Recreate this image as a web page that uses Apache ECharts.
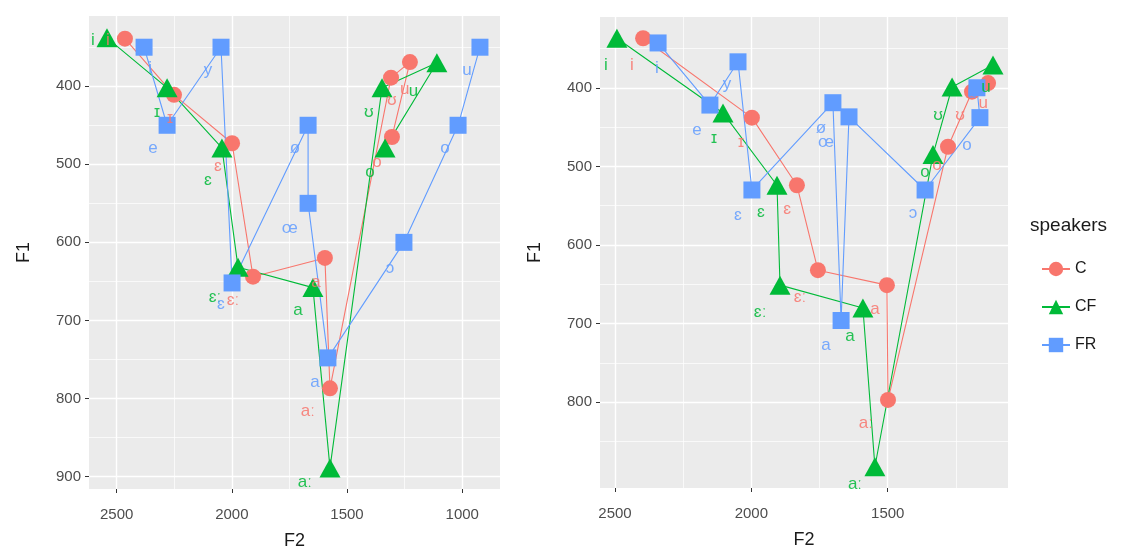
<!DOCTYPE html>
<html><head><meta charset="utf-8">
<script src="https://cdn.jsdelivr.net/npm/echarts@6/dist/echarts.min.js"></script>
<style>html,body{margin:0;padding:0;background:#fff}#c{width:1135px;height:558px}</style>
</head><body><div id="c"></div>
<script>
// ---- data (F2, F1) in path order ----
const speakers = ['C', 'CF', 'FR'];
// left: i, ɪ, ɛ, ɛː, a, aː, ʊ, u, o
const leftC  = [[2464,339],[2251,411],[1999,473],[1908,644],[1596,620],[1574,787],[1309,389],[1227,369],[1305,465]];
const leftCF = [[2542,338],[2281,402],[2043,479],[1973,632],[1648,658],[1574,889],[1348,402],[1110,370],[1335,479]];
// left FR: i, e, y, ɛ, ø, œ, a, ɔ, o, u
const leftFR = [[2381,350],[2281,450],[2047,350],[1999,652],[1669,450],[1669,550],[1583,748],[1253,600],[1018,450],[923,350]];
// right: i, ɪ, ɛ, ɛː, a, aː, o, ʊ, u
const rightC  = [[2397,337],[1998,438],[1833,524],[1756,632],[1503,651],[1499,797],[1279,475],[1191,405],[1132,394]];
const rightCF = [[2493,337],[2104,432],[1906,524],[1895,651],[1591,680],[1547,882],[1334,485],[1264,399],[1114,371]];
// right FR: i, e, y, ɛ, ø, a, œ, ɔ, o, u
const rightFR = [[2342,343],[2152,422],[2049,367],[1998,530],[1701,419],[1671,696],[1642,437],[1363,530],[1162,438],[1173,400]];
// vowel labels: [F2, F1, text]
const leftLabC  = [[2538,341,'i'],[2268,441,'ɪ'],[2060,502,'ɛ'],[1995,674,'ɛː'],[1635,651,'a'],[1670,817,'aː'],[1370,498,'o'],[1305,418,'ʊ'],[1250,404,'u']];
const leftLabCF = [[2603,341,'i'],[2325,434,'ɪ'],[2104,520,'ɛ'],[2073,670,'ɛː'],[1713,687,'a'],[1683,908,'aː'],[1400,510,'o'],[1405,434,'ʊ'],[1212,407,'u']];
const leftLabFR = [[2355,377,'i'],[2342,479,'e'],[2104,379,'y'],[2047,680,'ɛ'],[1726,479,'ø'],[1748,582,'œ'],[1639,779,'a'],[1314,633,'ɔ'],[1075,479,'o'],[979,379,'u']];
const rightLabC  = [[2438,371,'i'],[2038,470,'ɪ'],[1869,555,'ɛ'],[1822,666,'ɛː'],[1547,682,'a'],[1580,827,'aː'],[1319,498,'o'],[1235,435,'ʊ'],[1150,420,'u']];
const rightLabCF = [[2533,371,'i'],[2137,464,'ɪ'],[1965,558,'ɛ'],[1968,686,'ɛː'],[1638,716,'a'],[1620,904,'aː'],[1363,507,'o'],[1315,435,'ʊ'],[1140,400,'u']];
const rightLabFR = [[2346,375,'i'],[2199,454,'e'],[2089,396,'y'],[2049,562,'ɛ'],[1745,451,'ø'],[1726,469,'œ'],[1726,728,'a'],[1407,560,'ɔ'],[1209,473,'o'],[1191,407,'u']];
// axis ticks
const leftXTicks = [2500, 2000, 1500, 1000];
const leftXMinor = [2250, 1750, 1250];
const leftYTicks = [400, 500, 600, 700, 800, 900];
const leftYMinor = [350, 450, 550, 650, 750, 850];
const rightXTicks = [2500, 2000, 1500];
const rightXMinor = [2250, 1750, 1250];
const rightYTicks = [400, 500, 600, 700, 800];
const rightYMinor = [350, 450, 550, 650, 750, 850];

const colors = { C: '#F8766D', CF: '#00BA38', FR: '#619CFF' };
const symbols = { C: 'circle', CF: 'triangle', FR: 'rect' };
const symSize = { C: 16, CF: [21, 19], FR: 17 };
const FONT = 'Liberation Sans, DejaVu Sans, sans-serif';

const chart = echarts.init(document.getElementById('c'), null, { renderer: 'canvas' });

function mainX(grid, min, max, ticks) {
  return { gridIndex: grid, type: 'value', min, max, inverse: true, position: 'bottom',
    name: 'F2', nameLocation: 'middle', nameGap: 43,
    nameTextStyle: { fontSize: 18, color: '#1a1a1a', fontFamily: FONT },
    axisLine: { show: false },
    axisTick: { show: true, length: 4, customValues: ticks, lineStyle: { color: '#333', width: 1 } },
    axisLabel: { customValues: ticks, fontSize: 15, color: '#4D4D4D', margin: 18, fontFamily: FONT, formatter: v => String(v) },
    splitLine: { show: true, lineStyle: { color: '#ffffff', width: 1.4 } } };
}
function minorX(grid, min, max, ticks) {
  return { gridIndex: grid, type: 'value', min, max, inverse: true, position: 'top',
    axisLine: { show: false }, axisTick: { show: false, customValues: ticks },
    axisLabel: { show: false, customValues: ticks },
    splitLine: { show: true, lineStyle: { color: '#ffffff', width: 0.7 } } };
}
function mainY(grid, min, max, ticks) {
  return { gridIndex: grid, type: 'value', min, max, inverse: true, position: 'left',
    name: 'F1', nameLocation: 'middle', nameGap: 56, nameRotate: 90,
    nameTextStyle: { fontSize: 18, color: '#1a1a1a', fontFamily: FONT },
    axisLine: { show: false },
    axisTick: { show: true, length: 4, customValues: ticks, lineStyle: { color: '#333', width: 1 } },
    axisLabel: { customValues: ticks, fontSize: 15, color: '#4D4D4D', margin: 8, fontFamily: FONT, formatter: v => String(v) },
    splitLine: { show: true, lineStyle: { color: '#ffffff', width: 1.4 } } };
}
function minorY(grid, min, max, ticks) {
  return { gridIndex: grid, type: 'value', min, max, inverse: true, position: 'right',
    axisLine: { show: false }, axisTick: { show: false, customValues: ticks },
    axisLabel: { show: false, customValues: ticks },
    splitLine: { show: true, lineStyle: { color: '#ffffff', width: 0.7 } } };
}

function pathSeries(name, data, xi, yi) {
  return { name, type: 'line', xAxisIndex: xi, yAxisIndex: yi, data,
    symbol: symbols[name], symbolSize: symSize[name], showSymbol: true,
    itemStyle: { color: colors[name], opacity: 1 },
    lineStyle: { color: colors[name], width: 1.1 }, z: 3, animation: false };
}
function labelSeries(name, data, xi, yi) {
  return { name: name + '_lab', type: 'scatter', xAxisIndex: xi, yAxisIndex: yi, data,
    symbolSize: 0, silent: true, z: 4, animation: false, clip: false,
    encode: { x: 0, y: 1 },
    label: { show: true, position: 'inside', formatter: p => p.data[2],
      color: colors[name], opacity: 0.85, fontSize: 17, fontFamily: FONT } };
}

const option = {
  backgroundColor: '#ffffff',
  animation: false,
  grid: [
    { left: 89, top: 16, width: 411, height: 473, show: true, backgroundColor: '#EBEBEB', borderWidth: 0 },
    { left: 600, top: 17, width: 408, height: 471, show: true, backgroundColor: '#EBEBEB', borderWidth: 0 }
  ],
  xAxis: [
    mainX(0, 836, 2620, leftXTicks),
    minorX(0, 836, 2620, leftXMinor),
    mainX(1, 1059, 2555, rightXTicks),
    minorX(1, 1059, 2555, rightXMinor)
  ],
  yAxis: [
    mainY(0, 310, 916, leftYTicks),
    minorY(0, 310, 916, leftYMinor),
    mainY(1, 310, 909, rightYTicks),
    minorY(1, 310, 909, rightYMinor)
  ],
  legend: {
    data: speakers, orient: 'vertical', left: 1036, top: 256, itemGap: 22,
    itemWidth: 28, itemHeight: 18,
    textStyle: { fontSize: 16, color: '#1a1a1a', fontFamily: FONT }
  },
  graphic: [
    { type: 'text', left: 1030, top: 216, style: { text: 'speakers', fontSize: 19, fill: '#1a1a1a', fontFamily: FONT } }
  ],
  series: [
    pathSeries('C', leftC, 0, 0), pathSeries('CF', leftCF, 0, 0), pathSeries('FR', leftFR, 0, 0),
    pathSeries('C', rightC, 2, 2), pathSeries('CF', rightCF, 2, 2), pathSeries('FR', rightFR, 2, 2),
    labelSeries('C', leftLabC, 0, 0), labelSeries('CF', leftLabCF, 0, 0), labelSeries('FR', leftLabFR, 0, 0),
    labelSeries('C', rightLabC, 2, 2), labelSeries('CF', rightLabCF, 2, 2), labelSeries('FR', rightLabFR, 2, 2)
  ]
};
chart.setOption(option);
</script></body></html>
